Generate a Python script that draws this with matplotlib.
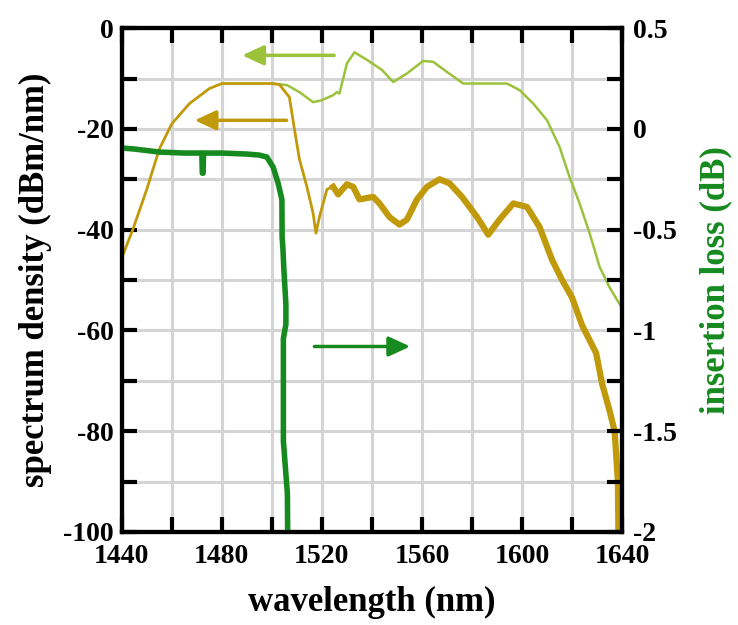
import matplotlib
matplotlib.use('Agg')
import matplotlib.pyplot as plt
import numpy as np
from matplotlib.ticker import MultipleLocator

# spectrum of source (orange), left axis, dBm/nm
src_wl = [1440, 1444.4, 1450, 1455, 1460, 1467, 1475, 1480, 1490, 1500, 1503,
          1507, 1509, 1511, 1514, 1516.5, 1517.6, 1519, 1522, 1524.5]
src_db = [-45.6, -40, -32, -24, -19, -15, -12, -11, -11, -11, -11.2,
          -13.7, -20, -26, -31.5, -36.8, -40.7, -37.5, -32, -31.5]
# noisy part of the source spectrum (drawn thicker)
src2_wl = [1524.5, 1526.5, 1530, 1532.5, 1535, 1540.5, 1543, 1547, 1551, 1554,
           1558, 1562, 1567, 1571, 1576, 1582, 1586.5, 1591, 1596.5, 1602,
           1607, 1612, 1616, 1620, 1624, 1629.6, 1632, 1635, 1637, 1638.3, 1638.5]
src2_db = [-31.5, -33, -31, -31.5, -34, -33.5, -34.8, -37.5, -39, -38,
           -34, -31.5, -30, -30.8, -33.5, -37.5, -41, -38, -34.8, -35.5,
           -39.5, -46, -50, -53.5, -59, -64.5, -70.6, -76, -80, -90, -100]

# filtered spectrum (light green), left axis
flt_wl = [1500, 1506, 1511, 1516.5, 1520, 1524.5, 1526, 1527, 1530, 1533, 1538,
          1544, 1548.5, 1554, 1560.5, 1564.5, 1570, 1576.5, 1594, 1599,
          1604.5, 1610, 1615, 1619, 1623, 1627, 1631, 1635, 1640]
flt_db = [-11, -11.3, -12.7, -14.7, -14.3, -13.3, -12.7, -13, -7, -4.8, -6.3,
          -8.3, -10.7, -9, -6.5, -6.7, -8.7, -11, -11, -12.3,
          -15, -18.3, -23.6, -29.6, -34.8, -40.7, -47.4, -51.5, -55.6]

# insertion loss (dark green), right axis, dB
il_wl = [1440, 1445, 1455, 1465, 1472, 1472.2, 1472.5, 1472.7, 1480, 1490, 1495,
         1498, 1500.5, 1502.5, 1504, 1504.1, 1504.4, 1504.8, 1505.6, 1505.6,
         1504.6, 1504.6, 1506.2, 1506.3]
il_db = [-0.095, -0.1, -0.115, -0.12, -0.12, -0.22, -0.22, -0.12, -0.12, -0.125, -0.13,
         -0.14, -0.19, -0.27, -0.35, -0.54, -0.59, -0.7, -0.87, -0.97,
         -1.04, -1.55, -1.81, -2.0]

left_ticks = [-100, -80, -60, -40, -20, 0]
right_ticks = [-2, -1.5, -1, -0.5, 0, 0.5]
right_labels = ['-2', '-1.5', '-1', '-0.5', '0', '0.5']

c_src = '#c09a0a'
c_flt = '#9cc23c'
c_il = '#168a1e'

plt.rcParams['font.family'] = ['Liberation Serif', 'DejaVu Serif']
plt.rcParams['font.weight'] = 'bold'

fig = plt.figure(figsize=(7.38, 6.25), dpi=100)
ax = fig.add_axes([0.165, 0.149, 0.678, 0.806])
ax2 = ax.twinx()

ax.set_xlim(1440, 1640)
ax.set_ylim(-100, 0)
ax2.set_ylim(-2, 0.5)

ax.xaxis.set_major_locator(MultipleLocator(40))
ax.xaxis.set_minor_locator(MultipleLocator(20))
ax.set_yticks(left_ticks)
ax.set_yticklabels([str(v) for v in left_ticks])
ax.yaxis.set_minor_locator(MultipleLocator(10))
ax2.set_yticks(right_ticks)
ax2.set_yticklabels(right_labels)
ax2.yaxis.set_minor_locator(MultipleLocator(0.25))

ax.grid(True, which='both', color='#d4d4d4', lw=2.2)
ax.set_axisbelow(True)

ax.tick_params(which='both', direction='in', length=11, width=3, top=True,
               labelsize=20, pad=6)
ax.tick_params(axis='x', pad=9)
ax2.tick_params(which='both', direction='in', length=11, width=3,
                labelsize=20, pad=8)
for a in (ax, ax2):
    for s in a.spines.values():
        s.set_linewidth(3)

ax.plot(flt_wl, flt_db, color=c_flt, lw=1.8)
ax.plot(src_wl, src_db, color=c_src, lw=2)
ax.plot(src2_wl, src2_db, color=c_src, lw=4.5)
ax2.plot(il_wl, il_db, color=c_il, lw=4)

# arrows pointing to the axis each curve uses
arrow_style = '-|>,head_length=1.3,head_width=0.6'
ax.annotate('', xy=(1487, -5.4), xytext=(1526, -5.4),
            arrowprops=dict(arrowstyle=arrow_style, color=c_flt, lw=2.5))
ax.annotate('', xy=(1468, -18.3), xytext=(1507, -18.3),
            arrowprops=dict(arrowstyle=arrow_style, color=c_src, lw=2.5))
ax2.annotate('', xy=(1556.4, -1.08), xytext=(1515.9, -1.08),
             arrowprops=dict(arrowstyle=arrow_style, color=c_il, lw=2.5))

ax.set_xlabel('wavelength (nm)', fontsize=25, fontweight='bold', labelpad=12)
ax.set_ylabel('spectrum density (dBm/nm)', fontsize=25, fontweight='bold', labelpad=8)
ax2.set_ylabel('insertion loss (dB)', fontsize=25, fontweight='bold', color=c_il, labelpad=16)

fig.savefig('out.png', dpi=100)
